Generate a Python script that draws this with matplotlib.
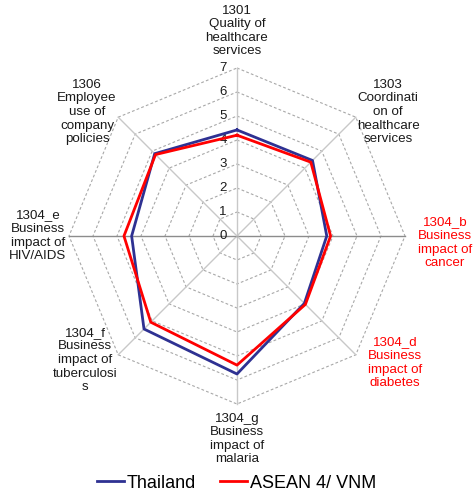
#!/usr/bin/env python
import numpy as np
import matplotlib
matplotlib.use('Agg')
import matplotlib.pyplot as plt
from matplotlib.lines import Line2D

plt.rcParams['font.family'] = ['Liberation Sans', 'DejaVu Sans']

# axis labels, clockwise from the top
categories = ['1301\nQuality of\nhealthcare\nservices',
              '1303\nCoordinati\non of\nhealthcare\nservices',
              '1304_b\nBusiness\nimpact of\ncancer',
              '1304_d\nBusiness\nimpact of\ndiabetes',
              '1304_g\nBusiness\nimpact of\nmalaria',
              '1304_f\nBusiness\nimpact of\ntuberculosi\ns',
              '1304_e\nBusiness\nimpact of\nHIV/AIDS',
              '1306\nEmployee\nuse of\ncompany\npolicies']
label_colors = ['#1a1a1a', '#1a1a1a', '#ff0000', '#ff0000',
                '#1a1a1a', '#1a1a1a', '#1a1a1a', '#1a1a1a']
thailand = [4.42, 4.45, 3.74, 3.97, 5.75, 5.48, 4.39, 4.85]
asean = [4.2, 4.35, 3.9, 4.03, 5.38, 5.08, 4.71, 4.8]
tick_values = [0, 1, 2, 3, 4, 5, 6, 7]
rmax = 7


def to_xy(values):
    n = len(values)
    ang = np.pi / 2 - 2 * np.pi * np.arange(n) / n
    v = np.asarray(values, dtype=float)
    x = v * np.cos(ang)
    y = v * np.sin(ang)
    return np.append(x, x[0]), np.append(y, y[0])


def main():
    fig = plt.figure(figsize=(4.73, 5.03), dpi=100)
    ax = fig.add_axes([0, 0, 1, 1])
    ax.set_xlim(-237 / 24, (473 - 237) / 24)
    ax.set_ylim(-267 / 24, 236 / 24)
    ax.axis('off')

    n = len(categories)
    # polygon rings
    for t in tick_values[1:]:
        x, y = to_xy([t] * n)
        ax.plot(x, y, color='#a8a8a8', lw=0.8, ls=(0, (2.5, 2)), zorder=1)
    # spokes
    ex, ey = to_xy([rmax] * n)
    for i in range(n):
        col = '#8c8c8c' if i in (2, 6) else '#c8c8c8'
        ax.plot([0, ex[i]], [0, ey[i]], color=col, lw=1.0, zorder=1)

    # tick labels
    for t in tick_values:
        ax.text(-0.42, t, str(t), ha='right', va='center', fontsize=9.5,
                color='#1a1a1a', zorder=3)

    # series
    tx, ty = to_xy(thailand)
    ax.plot(tx, ty, color='#2e3192', lw=2.0, zorder=4)
    rx, ry = to_xy(asean)
    ax.plot(rx, ry, color='#ff0000', lw=2.0, zorder=5)

    # category labels (pixel centres)
    label_pos = [(237, 31), (388, 112), (445, 243), (395, 363),
                 (237, 439), (85, 360), (38, 236), (87, 112)]
    for lab, (px, py), c in zip(categories, label_pos, label_colors):
        ax.text((px - 237) / 24, (236 - py) / 24, lab, ha='center', va='center',
                fontsize=9.6, color=c, linespacing=1.18)

    handles = [Line2D([], [], color='#2e3192', lw=2.0),
               Line2D([], [], color='#ff0000', lw=2.0)]
    fig.legend(handles, ['Thailand', 'ASEAN 4/ VNM'], loc='lower center',
               bbox_to_anchor=(0.5, -0.01), ncol=2, frameon=False, fontsize=13,
               handlelength=1.5, handletextpad=0.15, columnspacing=1.3)

    fig.savefig('out.png', dpi=100)


if __name__ == '__main__':
    main()
